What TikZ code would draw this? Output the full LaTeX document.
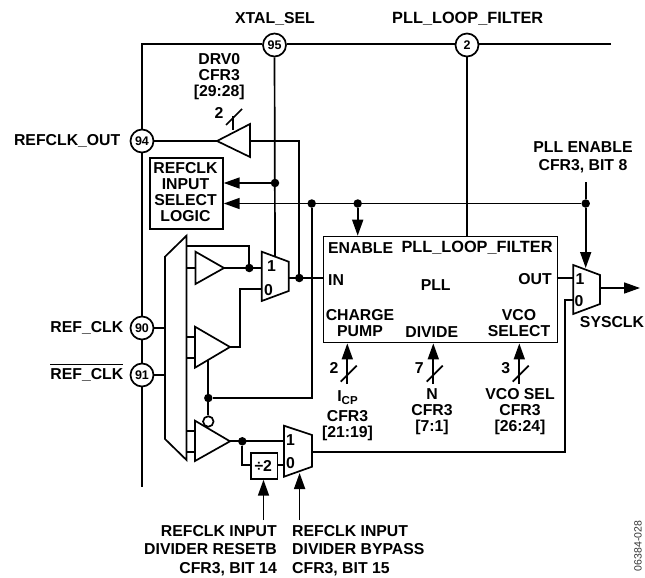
\documentclass[tikz,border=0pt]{standalone}
\usepackage{fontspec}
\setmainfont{Liberation Sans}
\usetikzlibrary{arrows.meta}
\tikzset{
  x=1pt,y=-1pt,
  wire/.style={line width=1.7pt,draw=black,line join=miter},
  bus/.style={line width=2.3pt,draw=black},
  sig/.style={wire,-{Triangle[length=16pt,width=11pt]}},
  part/.style={wire,fill=white},
  pin/.style={circle,draw=black,line width=1.7pt,fill=white,minimum size=23pt,inner sep=0pt,font=\bfseries\fontsize{12.5}{12}\selectfont},
  dotn/.style={circle,fill=black,inner sep=0pt,minimum size=8.5pt},
  lbl/.style={inner sep=0pt,align=center,font=\bfseries\fontsize{15.8}{16}\selectfont},
  lblwide/.style={lbl,font=\bfseries\fontsize{16.3}{16}\selectfont},
  boxn/.style={draw=black,line width=1.7pt,inner sep=0pt,anchor=north west},
}
\begin{document}
\begin{tikzpicture}
\useasboundingbox (0,0) rectangle (645,578);
% pins
\node[pin] (p95) at (274.5,45) {95};
\node[pin] (p2) at (467,45) {2};
\node[pin] (p94) at (142,141) {94};
\node[pin] (p90) at (142,328) {90};
\node[pin] (p91) at (142,375) {91};
\coordinate (fCorner) at (142,44);
\coordinate (fEnd) at (611,44);
\coordinate (fBot) at (142,487);
\draw[bus] (fEnd) -- (fEnd -| p2.east);
\draw[bus] (p2.west |- fCorner) -- (p95.east |- fCorner);
\draw[bus] (p95.west |- fCorner) -- (fCorner) -- (p94);
\draw[bus] (p94) -- (p90);
\draw[bus] (p90) -- (p91);
\draw[bus] (p91) -- (fBot);
% boxes
\node[boxn,minimum width=73pt,minimum height=71pt] (sel) at (149,157) {};
\node[lbl] at (185.5,192.5) {REFCLK\\INPUT\\SELECT\\LOGIC};
\node[boxn,minimum width=234pt,minimum height=106pt] (pll) at (322.7,235.7) {};
\node[boxn,minimum width=26.7pt,minimum height=26pt] (div) at (250,452) {};
\node[lbl] at (263.3,465.5) {÷2};
% named points
\node[dotn] (dXtal) at (275,183) {};
\node[dotn] (dEnA) at (311.7,203.5) {};
\node[dotn] (dEnB) at (357.7,203.5) {};
\node[dotn] (dEnC) at (585.7,203.5) {};
\node[dotn] (dMuxOut) at (299.3,278) {};
\node[dotn] (dT1) at (249.3,268) {};
\node[dotn] (dBub) at (208.3,398) {};
\node[dotn] (dT3) at (242.3,441.3) {};
\node[circle,draw=black,line width=1.7pt,fill=white,inner sep=0pt,minimum size=10.5pt] (bub) at (208.3,421.5) {};
% big input mux
\draw[part] (165,256.7) -- (186.5,235.7) -- (186.5,460) -- (165,439) -- cycle;
% amplifiers
\draw[part] (250,124) -- (217,141) -- (250,157) -- cycle;
\coordinate (drvOut) at (217,141);
\coordinate (drvIn) at (250,141);
\draw[part] (195.5,251.7) -- (224,268) -- (195.5,284) -- cycle;
\draw[part] (195,326.7) -- (230,347) -- (195,367.7) -- cycle;
\draw[part] (195,420.7) -- (230,441.3) -- (195,461) -- cycle;
% muxes
\draw[part] (261.7,251.7) -- (288.7,261.7) -- (288.7,291) -- (261.7,301) -- cycle;
\draw[part] (284,425.7) -- (312,435) -- (312,466.7) -- (284,476.7) -- cycle;
\draw[part] (573.3,265) -- (600,275) -- (600,304) -- (573.3,314) -- cycle;
% wires
\draw[wire] (p95) -- (275,256);
\draw[wire] (p2) -- (pll.north -| p2);
\draw[wire] (p94) -- (drvOut);
\draw[wire] (drvIn) -- (299.3,141) -- (dMuxOut);
\draw[sig] (dXtal) -- (sel.east |- dXtal);
\draw[sig] (dEnC) -- (sel.east |- dEnC);
\draw[sig] (dEnB) -- (pll.north -| dEnB);
\draw[wire] (dEnA) -- (311.7,398) -- (dBub);
\draw[wire] (bub) -- (208.3,360);
\coordinate (enTop) at (585.7,182);
\draw[wire] (enTop) -- (dEnC);
\draw[sig] (dEnC) -- (585.7,268);
\draw[wire] (186.5,246) -- (249.3,246) -- (dT1);
\draw[wire] (186.5,268) -- (195.5,268);
\draw[wire] (224,268) -- (261.7,268);
\draw[wire] (288.7,278) -- (pll.west |- dMuxOut);
\draw[wire] (230,347) -- (240,347) -- (240,289.3) -- (261.7,289.3);
\draw[wire] (186.5,336.7) -- (195,336.7);
\draw[wire] (186.5,357.7) -- (195,357.7);
\draw[wire] (186.5,430.7) -- (195,430.7);
\draw[wire] (186.5,452) -- (195,452);
\draw[wire] (p90) -- (165,328);
\draw[wire] (p91) -- (165,375);
\draw[wire] (230,441.3) -- (284,441.3);
\draw[wire] (dT3) |- (div.west |- 0,465);
\draw[wire] (div.east |- 0,465) -- (284,465);
\draw[wire] (312,452) -- (565,452) -- (565,300) -- (573.3,300);
\draw[wire] (556.7,278) -- (573.3,278);
\draw[sig] (600,288) -- (640,288);
\coordinate (dbA) at (263.5,520);
\coordinate (dbB) at (299.6,520);
\draw[sig] (dbA) -- (div.south -| dbA);
\draw[sig] (dbB) -- (299.6,473);
\coordinate (icp) at (347.3,384);
\coordinate (nn) at (433.3,384);
\coordinate (vco) at (519.3,384);
\draw[sig] (icp) -- (pll.south -| icp);
\draw[sig] (nn) -- (pll.south -| nn);
\draw[sig] (vco) -- (pll.south -| vco);
% bus slashes
\draw[wire] (233,116) -- (233,130);
\draw[wire] (226,125) -- (242,109);
\draw[wire] (340.7,381.7) -- (356.7,365.7);
\draw[wire] (426.7,381.7) -- (442.7,365.7);
\draw[wire] (512.7,381.7) -- (528.7,365.7);
% labels
\node[lbl] at (275,19) {XTAL\_SEL};
\node[lblwide] at (467.7,19) {PLL\_LOOP\_FILTER};
\node[lbl] at (219.3,77) {DRV0\\CFR3\\[0pt][29:28]};
\node[lbl] at (219,113) {2};
\node[lbl,anchor=east] at (120.5,141) {REFCLK\_OUT};
\node[lbl,anchor=east] at (123.5,328) {REF\_CLK};
\node[lbl,anchor=east] at (123.5,375) {\rlap{\smash{\rule[14.6pt]{73pt}{0.9pt}}}REF\_CLK};
\node[lbl] at (583,157.5) {PLL ENABLE\\[2.5pt]CFR3, BIT 8};
\node[lbl,anchor=west] at (328,248) {ENABLE};
\node[lblwide,anchor=east] at (552.7,248) {PLL\_LOOP\_FILTER};
\node[lbl,anchor=west] at (328,280) {IN};
\node[lbl] at (435.7,285) {PLL};
\node[lbl,anchor=east] at (552,279) {OUT};
\node[lbl] at (360,323) {CHARGE\\PUMP};
\node[lbl] at (431.7,331.7) {DIVIDE};
\node[lbl] at (519,323.5) {VCO\\SELECT};
\node[lbl] at (334,368) {2};
\node[lbl] at (419.3,368) {7};
\node[lbl] at (505.7,368) {3};
\node[lbl] at (347.5,398) {I\raisebox{-3pt}{\fontsize{11.5}{12}\selectfont CP}};
\node[lbl] at (347.5,426) {CFR3\\[0pt][21:19]};
\node[lbl] at (432,412) {N\\CFR3\\[0pt][7:1]};
\node[lbl] at (520,412) {VCO SEL\\CFR3\\[0pt][26:24]};
\node[lbl] at (612,321.7) {SYSCLK};
\node[lbl] at (271.5,266) {1};
\node[lbl] at (268.5,290) {0};
\node[lbl] at (290.5,440.5) {1};
\node[lbl] at (290.5,463.5) {0};
\node[lbl] at (580,279) {1};
\node[lbl] at (579,301.5) {0};
\node[lbl,align=right,anchor=east] at (277,550.5) {REFCLK INPUT\\[2.5pt]DIVIDER RESETB\\[2.5pt]CFR3, BIT 14};
\node[lbl,align=left,anchor=west] at (292,550.5) {REFCLK INPUT\\[2.5pt]DIVIDER BYPASS\\[2.5pt]CFR3, BIT 15};
\node[inner sep=0pt,rotate=90,font=\fontsize{10.5}{12}\selectfont,text=black!80] at (638,546) {06384-028};
\end{tikzpicture}
\end{document}
